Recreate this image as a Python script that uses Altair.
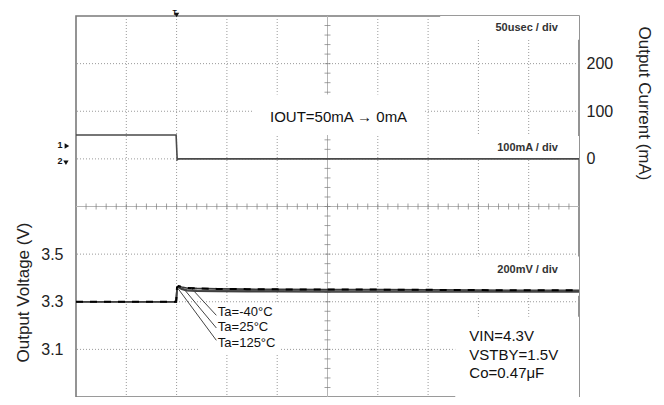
import altair as alt
import pandas as pd

# ---------------- data ----------------
# time axis in microseconds (50 usec/div, 10 divisions)
time_grid = [50, 100, 150, 200, 300, 350, 400, 450]
volt_grid = [3.1, 3.3, 3.5, 3.9, 4.1, 4.3]
volt_ticks = [3.1, 3.3, 3.5]
curr_ticks = [0, 100, 200]

# output current trace (mA)
i_time = [0, 99.5, 100.6, 102, 110, 500]
i_out = [50, 50, -2, 0, 0, 0]

# output voltage traces (V)
v_time = [0, 99.6, 100.4, 102, 105, 110, 120, 140, 170, 200, 250, 300, 350, 400, 450, 500]
v_m40 = [3.300, 3.300, 3.360, 3.366, 3.362, 3.358, 3.356, 3.354, 3.353, 3.352, 3.351, 3.351, 3.350, 3.349, 3.348, 3.348]
v_25 = [3.300, 3.300, 3.358, 3.363, 3.356, 3.350, 3.348, 3.347, 3.346, 3.346, 3.345, 3.345, 3.345, 3.344, 3.344, 3.344]
v_125 = [3.300, 3.300, 3.356, 3.360, 3.352, 3.346, 3.344, 3.343, 3.342, 3.342, 3.341, 3.341, 3.341, 3.341, 3.341, 3.341]

ta_labels = ["Ta=-40°C", "Ta=25°C", "Ta=125°C"]
cond_labels = ["VIN=4.3V", "VSTBY=1.5V", "Co=0.47μF"]

FONT = "Liberation Sans"

# graticule minor ticks (1/5 division)
h_ticks = [10 * k for k in range(1, 50)]
v_ticks = [round(2.9 + 0.04 * k, 3) for k in range(1, 40)]

# ---------------- scales / axes ----------------
xs = alt.Scale(domain=[0, 500], nice=False, zero=False)
vs = alt.Scale(domain=[2.9, 4.5], nice=False, zero=False)
cs = alt.Scale(domain=[-500, 300], nice=False, zero=False)

v_axis = alt.Axis(values=volt_ticks, grid=False, ticks=False, domain=False, orient="left",
                  format=".1f",
                  labelFont=FONT, labelFontSize=16, labelColor="#222", labelPadding=13,
                  title="Output Voltage (V)", titleFont=FONT, titleFontSize=17,
                  titleFontWeight="normal", titleColor="#222",
                  titleAngle=-90, titleAlign="center", titleBaseline="bottom",
                  titleX=-44, titleY=276)
c_axis = alt.Axis(values=curr_ticks, grid=False, ticks=False, domain=False, orient="right",
                  labelFont=FONT, labelFontSize=16, labelColor="#222", labelPadding=7,
                  title="Output Current (mA)", titleFont=FONT, titleFontSize=17,
                  titleFontWeight="normal", titleColor="#222",
                  titleAngle=90, titleAlign="center", titleBaseline="bottom",
                  titleX=55, titleY=87)


def X(field="t:Q"):
    return alt.X(field, scale=xs, axis=None)


def YV(field="v:Q"):
    return alt.Y(field, scale=vs, axis=None)


def YC(field="i:Q"):
    return alt.Y(field, scale=cs, axis=None)


GRID = dict(color="#9a9a9a", strokeWidth=1, strokeDash=[1, 2])

# ---------------- graticule ----------------
grid_v = alt.Chart(pd.DataFrame({"t": time_grid})).mark_rule(**GRID).encode(x=X())
grid_h = alt.Chart(pd.DataFrame({"v": volt_grid})).mark_rule(**GRID).encode(y=YV())

center_df = pd.DataFrame({"t": [250], "v": [3.7]})
center_vert = alt.Chart(center_df).mark_rule(color="#b5b5b5", strokeWidth=1).encode(x=X())
center_horiz = alt.Chart(center_df).mark_rule(color="#b5b5b5", strokeWidth=1).encode(y=YV())

tick_h = alt.Chart(pd.DataFrame({"t": h_ticks, "v": [3.7] * len(h_ticks)})).mark_tick(
    orient="vertical", size=6, thickness=1, color="#7a7a7a").encode(x=X(), y=YV())
tick_v = alt.Chart(pd.DataFrame({"v": v_ticks, "t": [250] * len(v_ticks)})).mark_tick(
    orient="horizontal", size=6, thickness=1, color="#7a7a7a").encode(x=X(), y=YV())

# white label boxes that interrupt the graticule behind the annotations
box_v = pd.DataFrame({"t": [362, 377, 123], "t2": [500, 500, 203],
                      "v": [3.49, 3.2375, 3.292], "v2": [3.325, 2.9, 3.083]})
boxes_v = alt.Chart(box_v).mark_rect(color="white", opacity=1).encode(
    x=X(), x2="t2:Q", y=YV(), y2="v2:Q")
box_c = pd.DataFrame({"t": [175, 362, 362], "t2": [347, 500, 500],
                      "i": [135, 300, 48], "i2": [50, 250, 2]})
boxes_c = alt.Chart(box_c).mark_rect(color="white", opacity=1).encode(
    x=X(), x2="t2:Q", y=YC(), y2="i2:Q")

# ---------------- voltage traces ----------------
vdf = pd.DataFrame({
    "t": v_time * 3,
    "v": v_m40 + v_25 + v_125,
    "s": ["m40"] * len(v_time) + ["25"] * len(v_time) + ["125"] * len(v_time),
})

v_solid = alt.Chart(vdf).mark_line(strokeWidth=1.6).encode(
    x=X(),
    y=alt.Y("v:Q", scale=vs, axis=v_axis),
    detail="s:N",
    color=alt.Color("s:N", scale=alt.Scale(domain=["m40", "25", "125"],
                                           range=["#3a3a3a", "#505050", "#404040"]), legend=None),
)
v_dash = alt.Chart(vdf[vdf["s"] == "m40"]).mark_line(
    strokeWidth=2, strokeDash=[7, 7], color="#000").encode(x=X(), y=YV())

leader_df = pd.DataFrame({
    "t": [115, 107, 101.5], "v": [3.355, 3.355, 3.355],
    "t2": [139.5, 139.5, 139.5], "v2": [3.243, 3.19, 3.138],
})
leaders = alt.Chart(leader_df).mark_rule(color="#444", strokeWidth=1).encode(
    x=X(), x2="t2:Q", y=YV(), y2="v2:Q")

ta_df = pd.DataFrame({"t": [141, 141, 141], "v": [3.258, 3.192, 3.126], "label": ta_labels})
ta_text = alt.Chart(ta_df).mark_text(align="left", baseline="middle", font=FONT,
                                     fontSize=13, color="#111").encode(
    x=X(), y=YV(), text="label:N")

cond_df = pd.DataFrame({"t": [391, 391, 391], "v": [3.158, 3.078, 3.001], "label": cond_labels})
cond_text = alt.Chart(cond_df).mark_text(align="left", baseline="middle", font=FONT,
                                         fontSize=15, color="#111").encode(
    x=X(), y=YV(), text="label:N")

mv_text = alt.Chart(pd.DataFrame({"t": [479], "v": [3.433], "label": ["200mV / div"]})).mark_text(
    align="right", baseline="middle", font=FONT, fontSize=11, fontWeight="bold", color="#333").encode(
    x=X(), y=YV(), text="label:N")

# ---------------- current trace ----------------
idf = pd.DataFrame({"t": i_time, "i": i_out})
i_line = alt.Chart(idf).mark_line(strokeWidth=1.6, color="#4a4a4a").encode(
    x=X(), y=alt.Y("i:Q", scale=cs, axis=c_axis))

upper_df = pd.DataFrame({"t": [479, 479], "i": [275, 23], "label": ["50usec / div", "100mA / div"]})
upper_text = alt.Chart(upper_df).mark_text(
    align="right", baseline="middle", font=FONT, fontSize=11, fontWeight="bold", color="#333").encode(
    x=X(), y=YC(), text="label:N")

iout_text = alt.Chart(pd.DataFrame({"t": [261], "i": [87], "label": ["IOUT=50mA → 0mA"]})).mark_text(
    align="center", baseline="middle", font=FONT, fontSize=15, color="#111").encode(
    x=X(), y=YC(), text="label:N")

# oscilloscope channel / trigger markers
mk_txt = pd.DataFrame({"t": [-16, -16], "i": [29, -4], "label": ["1", "2"]})
marker_text = alt.Chart(mk_txt).mark_text(
    align="center", baseline="middle", font=FONT, fontSize=9, fontWeight="bold", color="#111").encode(
    x=X(), y=YC(), text="label:N")
trig_text = alt.Chart(pd.DataFrame({"t": [98], "i": [314], "label": ["T"]})).mark_text(
    align="center", baseline="top", font=FONT, fontSize=7, fontWeight="bold", color="#111").encode(
    x=X(), y=YC(), text="label:N")
mk_pts = pd.DataFrame({"t": [-9, -10, 100], "i": [27, -8, 302],
                       "shape": ["triangle-right", "triangle-down", "triangle-down"]})
marker_pts = alt.Chart(mk_pts).mark_point(filled=True, size=28, color="#111", opacity=1).encode(
    x=X(), y=YC(), shape=alt.Shape("shape:N", scale=None))

chart = alt.layer(
    grid_v, grid_h, center_vert, center_horiz, tick_h, tick_v,
    boxes_v, boxes_c, v_solid, v_dash,
    leaders, ta_text, cond_text, mv_text,
    i_line, upper_text, iout_text, marker_text, trig_text, marker_pts,
).resolve_scale(y="independent").properties(
    width=503, height=381,
    autosize=alt.AutoSizeParams(type="none"),
    padding={"left": 68, "top": 8, "right": 77, "bottom": 0},
    background="white",
).configure_view(stroke="#7a7a7a", strokeWidth=1.6)

chart.save("out.html", embed_options={"renderer": "svg", "actions": False})
